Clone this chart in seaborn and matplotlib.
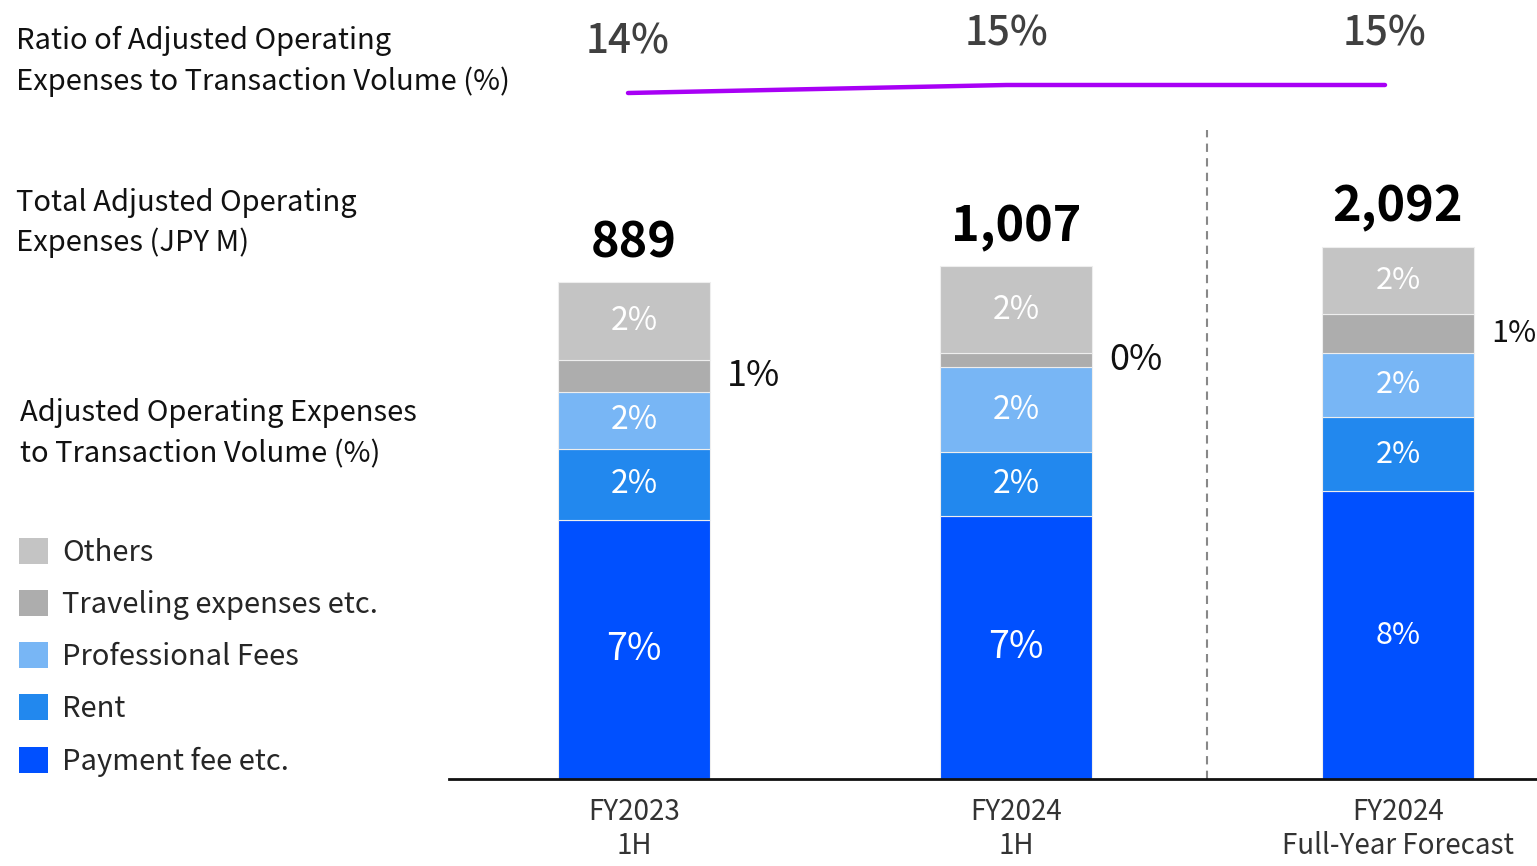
import matplotlib
matplotlib.use("Agg")
import matplotlib.pyplot as plt
from matplotlib.patches import Patch
import seaborn as sns
import pandas as pd
import numpy as np

# ---- data -------------------------------------------------------------
periods = ["FY2023\n1H", "FY2024\n1H", "FY2024\nFull-Year Forecast"]
total_jpy_m = [889, 1007, 2092]
ratio_pct = [14, 15, 15]

# expense items as % of transaction volume (stacked bottom -> top)
payment_fee = [7.3, 7.4, 8.1]
rent = [2.0, 1.8, 2.1]
professional_fees = [1.6, 2.4, 1.8]
traveling = [0.9, 0.4, 1.1]
others = [2.2, 2.45, 1.9]

segment_names = ["Payment fee etc.", "Rent", "Professional Fees",
                 "Traveling expenses etc.", "Others"]
segment_values = [payment_fee, rent, professional_fees, traveling, others]
segment_colors = ["#0050FF", "#2288EE", "#78B6F5", "#ADADAD", "#C4C4C4"]

# ---- styling ----------------------------------------------------------
sns.set_theme(style="white")
plt.rcParams["font.family"] = ["Noto Sans CJK JP", "DejaVu Sans"]

W, H = 1537, 866
fig = plt.figure(figsize=(W / 100, H / 100), dpi=100)


def fx(px):
    return px / W


def fy(py):
    return 1 - py / H


# main bar axes: spans from x=449 to right edge, baseline at y=779
bar_top_px = 100
ax = fig.add_axes([fx(449), fy(779), fx(W - 449), (779 - bar_top_px) / H])
px_per_unit = 382.0
x_left = (449 - 634) / px_per_unit
x_right = 2 + (1537 - 1398) / px_per_unit
ax.set_xlim(x_left, x_right)
px_per_pct = 35.5
ax.set_ylim(0, (779 - bar_top_px) / px_per_pct)

df = pd.DataFrame({"x": np.arange(len(periods))})
bottom = np.zeros(len(periods))
bar_width = 152 / px_per_unit
for name, vals, col in zip(segment_names, segment_values, segment_colors):
    vals = np.asarray(vals, dtype=float)
    ax.bar(df["x"], vals, bottom=bottom, width=bar_width, color=col,
           edgecolor="#EEEEEE", linewidth=0.8, label=name)
    for i, (v, b) in enumerate(zip(vals, bottom)):
        label = f"{v:.0f}%"
        yc = b + v / 2
        if name == "Traveling expenses etc.":
            size = 22 if i == 2 else 26
            ax.text(i + bar_width / 2 + 17 / px_per_unit, yc, label,
                    ha="left", va="center", fontsize=size, color="#111111")
        else:
            if i == 2:
                size = 22
            elif name == "Payment fee etc.":
                size = 27
            else:
                size = 23
            ax.text(i, yc, label, ha="center", va="center",
                    fontsize=size, color="white")
    bottom = bottom + vals

# totals above bars
for i, (tot, b) in enumerate(zip(total_jpy_m, bottom)):
    ax.annotate(f"{tot:,}", (i, b), xytext=(0, 14), textcoords="offset pixels",
                ha="center", va="bottom", fontsize=35, fontweight="bold",
                color="#000000")

# dashed divider between actuals and forecast
ax.plot([1.5, 1.5], [0, (779 - 130) / px_per_pct], ls=(0, (4, 3)),
        color="#888888", lw=1.5)

ax.set_xticks(df["x"])
ax.set_xticklabels(periods, fontsize=20, color="#333333", linespacing=1.15)
ax.tick_params(axis="x", length=0, pad=13)
ax.set_yticks([])
for s in ["top", "right", "left"]:
    ax.spines[s].set_visible(False)
ax.spines["bottom"].set_color("#111111")
ax.spines["bottom"].set_linewidth(2)

# ---- ratio line (top strip) --------------------------------------------
lax = fig.add_axes([fx(449), fy(130), fx(W - 449), 130 / H])
lpx = 378.5
lax.set_xlim((449 - 628) / lpx, 2 + (1537 - 1385) / lpx)
lax.set_ylim(15 - 45 / 8, 15 + 85 / 8)
line_df = pd.DataFrame({"x": np.arange(len(periods)), "ratio": ratio_pct})
sns.lineplot(data=line_df, x="x", y="ratio", ax=lax, color="#A800F5",
             linewidth=3.2, solid_capstyle="round")
for i, r in enumerate(ratio_pct):
    lax.annotate(f"{r}%", (i, r), xytext=(0, 51), textcoords="offset pixels",
                 ha="center", va="center", fontsize=29, color="#404040",
                 fontweight="medium")
lax.axis("off")

# ---- left-side row captions --------------------------------------------
fig.text(fx(16), fy(61), "Ratio of Adjusted Operating\nExpenses to Transaction Volume (%)",
         ha="left", va="center", fontsize=21, color="#111111", linespacing=1.45)
fig.text(fx(16), fy(223), "Total Adjusted Operating\nExpenses (JPY M)",
         ha="left", va="center", fontsize=21, color="#111111", linespacing=1.4)
fig.text(fx(20), fy(434), "Adjusted Operating Expenses\nto Transaction Volume (%)",
         ha="left", va="center", fontsize=21, color="#111111", linespacing=1.5)

# legend (top -> bottom: Others ... Payment fee)
handles = [Patch(facecolor=c, edgecolor="none", label=n)
           for n, c in zip(segment_names[::-1], segment_colors[::-1])]
fig.legend(handles=handles, loc="upper left",
           bbox_to_anchor=(fx(7), fy(526)), frameon=False, fontsize=21,
           handlelength=1.0, handleheight=1.0, handletextpad=0.5,
           labelspacing=0.76, borderaxespad=0)

fig.savefig("out.png", dpi=100)
